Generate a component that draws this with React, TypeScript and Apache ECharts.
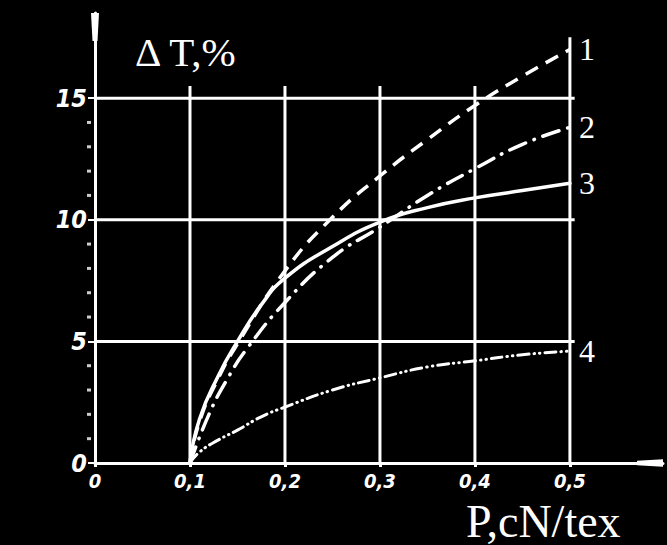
import React, { useEffect, useRef } from "react";
import * as echarts from "echarts";

// ---- data ----
const curveNames = ["1", "2", "3", "4"];

const curve1X = [0.1, 0.11, 0.13, 0.15, 0.2, 0.25, 0.3, 0.35, 0.4, 0.45, 0.5];
const curve1Y = [0, 1.7, 3.5, 4.9, 7.9, 10.1, 11.8, 13.3, 14.7, 15.9, 17.0];

const curve2X = [0.1, 0.12, 0.14, 0.16, 0.2, 0.25, 0.3, 0.35, 0.4, 0.45, 0.5];
const curve2Y = [0, 2.0, 3.5, 4.7, 6.6, 8.45, 9.7, 11.0, 12.1, 13.1, 13.8];

const curve3X = [0.1, 0.11, 0.13, 0.15, 0.175, 0.2, 0.25, 0.3, 0.35, 0.4, 0.45, 0.5];
const curve3Y = [0, 1.8, 3.6, 5.0, 6.5, 7.6, 8.9, 9.9, 10.5, 10.9, 11.2, 11.5];

const curve4X = [0.1, 0.11, 0.13, 0.15, 0.175, 0.2, 0.25, 0.3, 0.35, 0.4, 0.45, 0.5];
const curve4Y = [0, 0.45, 0.95, 1.35, 1.9, 2.3, 3.0, 3.5, 3.95, 4.2, 4.45, 4.6];

const xTickValues = [0, 0.1, 0.2, 0.3, 0.4, 0.5];
const xTickLabels = ["0", "0,1", "0,2", "0,3", "0,4", "0,5"];
const yTickValues = [0, 5, 10, 15];
const yTickLabels = ["0", "5", "10", "15"];
const yMinorTicks = [1, 2, 3, 4, 6, 7, 8, 9, 11, 12, 13, 14];

// grid lines drawn on the plot (data coordinates)
const gridHValues = [5, 10, 15];
const gridHEnd = 0.505;
const gridVValues = [0.1, 0.2, 0.3, 0.4, 0.5];
const gridVTops = [15.5, 15.5, 15.5, 15.5, 17.5];

const xMax = 0.598;
const yMax = 18.5;

const yAxisTitle = "Δ T,%";
const xAxisTitle = "P,cN/tex";

const WHITE = "#ffffff";
const SERIF = '"Liberation Serif", "Times New Roman", serif';
const HAND = '"Liberation Sans Narrow", "DejaVu Sans Condensed", "DejaVu Sans", sans-serif';

export default function App() {
  const ref = useRef<HTMLDivElement>(null);

  useEffect(() => {
    if (!ref.current) return;
    const chart = echarts.init(ref.current, undefined, { renderer: "svg" });

    const pairs = (xs: number[], ys: number[]) => xs.map((x, i) => [x, ys[i]]);

    const gridSeries: any[] = [];
    gridHValues.forEach((y) => {
      gridSeries.push({
        type: "line",
        data: [
          [0, y],
          [gridHEnd, y],
        ],
        symbol: "none",
        silent: true,
        z: 1,
        lineStyle: { color: WHITE, width: 3 },
      });
    });
    gridVValues.forEach((x, i) => {
      gridSeries.push({
        type: "line",
        data: [
          [x, 0],
          [x, gridVTops[i]],
        ],
        symbol: "none",
        silent: true,
        z: 1,
        lineStyle: { color: WHITE, width: 3 },
      });
    });

    const curveStyles: any[] = [
      { type: [14, 9], width: 3.5, cap: "butt" },
      { type: [17, 9, 0.5, 9], width: 3.5, cap: "round" },
      { type: "solid", width: 3.5, cap: "round" },
      { type: [11, 5, 0.5, 5, 0.5, 5], width: 3, cap: "round" },
    ];
    const curveData = [
      pairs(curve1X, curve1Y),
      pairs(curve2X, curve2Y),
      pairs(curve3X, curve3Y),
      pairs(curve4X, curve4Y),
    ];

    const curveSeries = curveData.map((d, i) => ({
      type: "line",
      name: curveNames[i],
      data: d,
      symbol: "none",
      smooth: 0.5,
      z: 3,
      silent: true,
      lineStyle: { color: WHITE, ...curveStyles[i] },
      endLabel: {
        show: true,
        formatter: () => curveNames[i],
        color: WHITE,
        fontFamily: SERIF,
        fontSize: 32,
        distance: 9,
      },
    }));

    const minorTickSeries = {
      type: "scatter",
      data: yMinorTicks.map((v) => [0, v]),
      symbol: "rect",
      symbolSize: [4, 3],
      symbolOffset: [-6, 0],
      clip: false,
      silent: true,
      itemStyle: { color: WHITE },
      z: 4,
    };

    const arrowPath = "path://M0,0L8,0L6.5,28L1.5,28Z";

    const labelFor = (values: number[], labels: string[]) => (v: number) => {
      const idx = values.findIndex((t) => Math.abs(t - v) < 1e-6);
      return idx >= 0 ? labels[idx] : "";
    };

    chart.setOption({
      animation: false,
      backgroundColor: "#000000",
      grid: { left: 95, top: 13, right: 4, bottom: 82, containLabel: false },
      xAxis: {
        type: "value",
        min: 0,
        max: xMax,
        interval: 0.1,
        axisLine: {
          show: true,
          onZero: false,
          symbol: ["none", arrowPath],
          symbolSize: [8, 26],
          symbolOffset: [0, -13],
          lineStyle: { color: WHITE, width: 3 },
        },
        axisTick: {
          show: true,
          length: 4,
          customValues: xTickValues,
          lineStyle: { color: WHITE, width: 3 },
        },
        axisLabel: {
          show: true,
          customValues: xTickValues,
          showMinLabel: true,
          showMaxLabel: true,
          formatter: labelFor(xTickValues, xTickLabels),
          color: WHITE,
          fontFamily: HAND,
          fontStyle: "italic",
          fontWeight: "bold",
          fontSize: 20,
          margin: 8,
        },
        splitLine: { show: false },
      },
      yAxis: {
        type: "value",
        min: 0,
        max: yMax,
        interval: 5,
        axisLine: {
          show: true,
          onZero: false,
          symbol: ["none", arrowPath],
          symbolSize: [8, 29],
          symbolOffset: [0, -14],
          lineStyle: { color: WHITE, width: 3 },
        },
        axisTick: {
          show: true,
          length: 7,
          customValues: yTickValues,
          lineStyle: { color: WHITE, width: 2 },
        },
        axisLabel: {
          show: true,
          customValues: yTickValues,
          showMinLabel: true,
          showMaxLabel: true,
          formatter: labelFor(yTickValues, yTickLabels),
          color: WHITE,
          fontFamily: HAND,
          fontStyle: "italic",
          fontWeight: "bold",
          fontSize: 25,
          margin: 8,
        },
        splitLine: { show: false },
      },
      graphic: [
        {
          type: "text",
          left: 135,
          top: 31,
          silent: true,
          style: {
            text: yAxisTitle,
            fill: WHITE,
            fontFamily: SERIF,
            fontSize: 41,
          },
        },
        {
          type: "text",
          left: 466,
          top: 498,
          silent: true,
          style: {
            text: xAxisTitle,
            fill: WHITE,
            fontFamily: SERIF,
            fontSize: 46,
            lineHeight: 35,
          },
        },
      ],
      series: [...gridSeries, ...curveSeries, minorTickSeries],
    });

    return () => {
      chart.dispose();
    };
  }, []);

  return (
    <div
      ref={ref}
      style={{
        position: "absolute",
        left: 0,
        top: 0,
        width: 667,
        height: 545,
        background: "#000000",
      }}
    />
  );
}
